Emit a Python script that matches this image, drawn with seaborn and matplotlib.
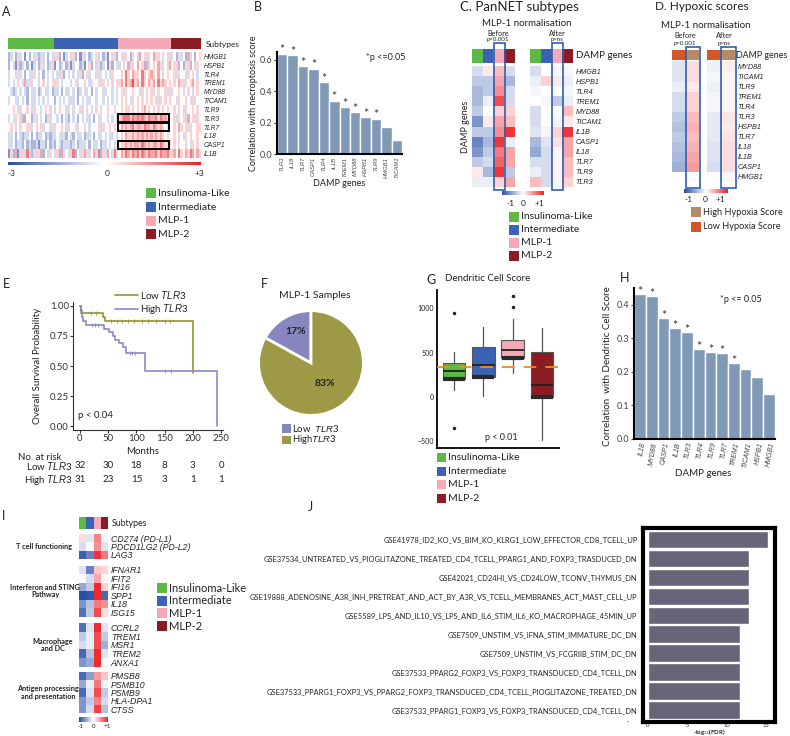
import numpy as np
import matplotlib
matplotlib.use("Agg")
import matplotlib.pyplot as plt
import matplotlib.patches as mpatches
import matplotlib.transforms as mtransforms
from matplotlib.colors import LinearSegmentedColormap, ListedColormap, Normalize
from matplotlib.lines import Line2D
import seaborn as sns

# ── Style ─────────────────────────────────────────────────────────────────────
sns.set_theme(style="ticks")
plt.rcParams["font.family"] = ["Lato", "DejaVu Sans"]
plt.rcParams["mathtext.fontset"] = "custom"
plt.rcParams["mathtext.rm"] = "Lato"
plt.rcParams["mathtext.it"] = "Liberation Sans:italic"
plt.rcParams["mathtext.bf"] = "Lato:bold"
plt.rcParams["text.color"] = "#222222"

SUB_NAMES = ["Insulinoma-Like", "Intermediate", "MLP-1", "MLP-2"]
SUB_COLORS = ["#5cb946", "#3b62b3", "#f5a8b5", "#8c1c24"]
HYP_NAMES = ["High Hypoxia Score", "Low Hypoxia Score"]
HYP_COLORS = ["#b38b68", "#d4572b"]
BAR_BLUE = "#8099b6"
CMAP = LinearSegmentedColormap.from_list("bwr_pub", ["#2a4ea6", "#ffffff", "#ee2024"])
GENE_FONT = "Liberation Sans"

# ── Data ──────────────────────────────────────────────────────────────────────
# A: per-sample z-scores, one char per sample, value = (digit - 5) * 0.6
A_GENES = ["HMGB1", "HSPB1", "TLR4", "TREM1", "MYD88", "TICAM1",
           "TLR9", "TLR3", "TLR7", "IL18", "CASP1", "IL1B"]
A_GROUP_SIZES = [20, 28, 23, 13]
A_ROWS = [
    "34536 45253 54634 45354 46352 45463 52645 34564 53625 463 56465 36547 56465 74656 546 45364 53745 356",
    "35426 34535 24536 45346 25345 36245 53425 63546 34526 354 45657 46575 63745 65764 567 56475 36475 465",
    "45546 45354 46545 35454 54463 54545 46356 45546 45454 655 56586 57665 86567 65756 565 56465 54656 545",
    "45456 54746 45545 65456 46545 55456 45565 46556 46565 456 67586 79675 86576 75867 656 56576 46567 565",
    "54345 45435 44534 54453 44535 44545 34544 53545 54455 454 56465 56554 65656 45655 646 45565 45654 565",
    "45544 54535 44545 45455 35454 54445 35454 45545 54545 454 56565 46565 65656 56465 656 55465 56546 455",
    "55656 45565 46554 56565 45655 46545 56456 54565 45565 565 56566 56565 67565 65656 565 56565 46556 565",
    "45465 47355 36454 53645 54535 43545 35454 45354 45545 454 67888 68787 87687 78687 765 56465 64756 465",
    "56545 65566 45656 45546 45565 46556 45565 45556 46556 565 57676 78677 68776 87676 565 56576 56465 566",
    "44535 43445 35344 53434 45444 35435 44534 45354 45454 454 56576 67676 76767 67676 565 56565 46565 565",
    "44534 43534 33424 43534 35434 44345 34445 35445 34454 545 56676 76776 87676 77687 666 56565 56546 565",
    "26372 46484 36467 35465 46374 56483 56476 45748 36475 486 57687 68786 87687 78687 786 67586 57687 576",
]
A_BOXED = ["TLR3", "TLR7", "CASP1"]

# B: correlation with necroptosis score
B_GENES = ["TLR3", "IL18", "TLR7", "CASP1", "TLR4", "IL1B",
           "TREM1", "MYD88", "HSPB1", "TLR9", "HMGB1", "TICAM1"]
B_CORR = [0.64, 0.63, 0.56, 0.545, 0.46, 0.34, 0.30, 0.265, 0.235, 0.225, 0.17, 0.088]
B_SIG = [True] * 10 + [False] * 2

# C: mean z-score per subtype before / after MLP-1 normalisation
C_GENES = ["HMGB1", "HSPB1", "TLR4", "TREM1", "MYD88", "TICAM1",
           "IL1B", "CASP1", "IL18", "TLR7", "TLR9", "TLR3"]
C_BEFORE = [[-0.2, 0.1, 0.3, -0.2], [-0.3, -0.3, 0.4, -0.4], [-0.4, -0.3, 0.5, -0.2],
            [-0.4, -0.1, 0.8, -0.2], [-0.3, 0.0, 0.2, 0.2], [-0.6, 0.1, 0.4, 0.3],
            [-0.3, -0.3, 0.5, 0.9], [-0.7, -0.4, 0.9, -0.1], [-0.6, -0.3, 0.6, 0.4],
            [-0.3, -0.2, 0.7, 0.4], [0.1, -0.4, 0.9, -0.3], [-0.1, -0.1, 0.2, 0.4]]
C_AFTER = [[-0.2, 0.0, -0.05, -0.05], [-0.1, 0.2, 0.1, -0.1], [-0.05, 0.0, 0.0, -0.05],
           [0.0, -0.05, -0.3, -0.1], [-0.2, 0.0, 0.0, 0.3], [-0.2, 0.0, -0.05, 0.1],
           [-0.15, -0.05, 0.2, 0.9], [-0.4, -0.15, 0.15, 0.4], [-0.5, -0.2, 0.05, 0.4],
           [-0.2, -0.2, 0.05, 0.3], [-0.1, -0.2, 0.05, 0.3], [0.3, -0.2, -0.05, 0.2]]

# D: hypoxia groups (Low, High)
D_GENES = ["MYD88", "TICAM1", "TLR9", "TREM1", "TLR4", "TLR3",
           "HSPB1", "TLR7", "IL18", "IL1B", "CASP1", "HMGB1"]
D_BEFORE = [[-0.15, 0.15], [-0.15, 0.15], [-0.1, 0.1], [-0.2, 0.2], [-0.2, 0.2], [-0.3, 0.3],
            [-0.35, 0.35], [-0.3, 0.3], [-0.35, 0.35], [-0.4, 0.4], [-0.45, 0.45], [0.0, -0.03]]
D_AFTER = [[-0.08, 0.08], [-0.05, 0.05], [-0.08, 0.05], [-0.05, 0.05], [-0.05, 0.05], [-0.12, 0.12],
           [-0.12, 0.1], [-0.12, 0.12], [-0.15, 0.15], [-0.15, 0.15], [-0.18, 0.15], [0.02, -0.05]]

# E: Kaplan-Meier
LOW_T = [0, 2, 40, 45, 200]
LOW_S = [1.0, 0.94, 0.91, 0.875, 0.44]
HIGH_T = [0, 2, 4, 6, 10, 42, 52, 58, 62, 70, 76, 82, 115, 242]
HIGH_S = [1.0, 0.97, 0.91, 0.875, 0.84, 0.81, 0.78, 0.75, 0.72, 0.69, 0.66, 0.61, 0.46, 0.0]
LOW_CENS = [20, 28, 55, 65, 75, 85, 95, 110, 120, 135, 150, 160]
HIGH_CENS = [22, 27, 32, 88, 93, 98, 150, 162]
RISK_MONTHS = [0, 50, 100, 150, 200, 250]
LOW_RISK = [32, 30, 18, 8, 3, 0]
HIGH_RISK = [31, 23, 15, 3, 1, 1]

# F: pie
F_PCT = [17, 83]
F_COLORS = ["#8886bf", "#9d9946"]

# G: dendritic cell score box stats
G_Q1 = [203, 229, 437, -4]
G_MED = [297, 361, 531, 135]
G_Q3 = [380, 568, 643, 505]
G_LO = [79, 11, 275, -485]
G_HI = [505, 794, 877, 782]
G_FLIERS = [[945, -347], [], [1140, 1020], []]
G_REF = 335

# H: correlation with dendritic cell score
H_GENES = ["IL18", "MYD88", "CASP1", "IL1B", "TLR3", "TLR4",
           "TLR9", "TLR7", "TREM1", "TICAM1", "HSPB1", "HMGB1"]
H_CORR = [0.432, 0.427, 0.362, 0.33, 0.318, 0.269, 0.258, 0.256, 0.226, 0.21, 0.184, 0.133]
H_SIG = [True] * 9 + [False] * 3

# I: immune genes per subtype
I_GROUPS = ["T cell functioning", "Interferon and STING\nPathway",
            "Macrophage\nand DC", "Antigen processing\nand presentation"]
I_GENES = [["CD274 (PD-L1)", "PDCD1LG2 (PD-L2)", "LAG3"],
           ["IFNAR1", "IFIT2", "IFI16", "SPP1", "IL18", "ISG15"],
           ["CCRL2", "TREM1", "MSR1", "TREM2", "ANXA1"],
           ["PMSB8", "PSMB10", "PSMB9", "HLA-DPA1", "CTSS"]]
I_VALUES = [
    [[0.15, -0.15, 0.55, -0.05], [-0.2, 0.0, 0.5, -0.15], [-0.9, -0.7, 0.9, 0.6]],
    [[-0.15, -0.7, 0.25, 0.2], [0.0, -0.2, 0.4, 0.05], [-0.5, -0.3, 0.95, 0.2],
     [-1.0, -0.95, 0.95, -0.85], [-0.6, -0.35, 0.6, 0.5], [-0.8, -0.3, 0.8, 0.15]],
    [[-0.8, -0.15, 0.95, -0.15], [-0.3, -0.1, 0.8, -0.3], [-0.2, -0.1, 0.8, -0.45],
     [-0.85, -0.35, 0.95, -0.15], [-0.6, -0.5, 0.95, 0.0]],
    [[-0.85, -0.55, 0.45, 0.25], [-0.5, -0.1, 0.6, -0.05], [-0.85, -0.15, 0.8, -0.3],
     [-0.6, -0.3, 0.55, -0.2], [-0.6, -0.2, 0.85, -0.35]],
]

# J: enriched gene sets
J_TERMS = [
    "GSE41978_ID2_KO_VS_BIM_KO_KLRG1_LOW_EFFECTOR_CD8_TCELL_UP",
    "GSE37534_UNTREATED_VS_PIOGLITAZONE_TREATED_CD4_TCELL_PPARG1_AND_FOXP3_TRASDUCED_DN",
    "GSE42021_CD24HI_VS_CD24LOW_TCONV_THYMUS_DN",
    "GSE19888_ADENOSINE_A3R_INH_PRETREAT_AND_ACT_BY_A3R_VS_TCELL_MEMBRANES_ACT_MAST_CELL_UP",
    "GSE5589_LPS_AND_IL10_VS_LPS_AND_IL6_STIM_IL6_KO_MACROPHAGE_45MIN_UP",
    "GSE7509_UNSTIM_VS_IFNA_STIM_IMMATURE_DC_DN",
    "GSE7509_UNSTIM_VS_FCGRIIB_STIM_DC_DN",
    "GSE37533_PPARG2_FOXP3_VS_FOXP3_TRANSDUCED_CD4_TCELL_DN",
    "GSE37533_PPARG1_FOXP3_VS_PPARG2_FOXP3_TRANSDUCED_CD4_TCELL_PIOGLITAZONE_TREATED_DN",
    "GSE37533_PPARG1_FOXP3_VS_FOXP3_TRANSDUCED_CD4_TCELL_DN",
]
J_LOGFDR = [15.2, 12.8, 12.8, 12.8, 12.8, 11.7, 11.7, 11.65, 11.65, 11.65]

# ── Figure helpers (pixel coords, origin top-left) ────────────────────────────
W, H = 790, 736
fig = plt.figure(figsize=(W / 100, H / 100), dpi=100)
fig.patch.set_facecolor("white")


def ax_at(x0, y0, x1, y1):
    return fig.add_axes([x0 / W, 1 - y1 / H, (x1 - x0) / W, (y1 - y0) / H])


def txt(x, y, s, **kw):
    kw.setdefault("ha", "left")
    kw.setdefault("va", "center")
    fig.text(x / W, 1 - y / H, s, **kw)


def frame(x0, y0, x1, y1, color="#2f5fb3", lw=1.2):
    fig.add_artist(mpatches.Rectangle((x0 / W, 1 - y1 / H), (x1 - x0) / W, (y1 - y0) / H,
                                      transform=fig.transFigure, fill=False,
                                      edgecolor=color, lw=lw))


def legend_boxes(x, y, dy, colors, labels, size=10, fs=7.5):
    for i, (c, lab) in enumerate(zip(colors, labels)):
        yy = y + i * dy
        fig.add_artist(mpatches.Rectangle((x / W, 1 - (yy + size / 2) / H), size / W, size / H,
                                          transform=fig.transFigure, facecolor=c,
                                          edgecolor="none"))
        txt(x + size + 2, yy, lab, fontsize=fs)


def heat(ax, data, vmin, vmax, labels=None, fs=5):
    sns.heatmap(np.array(data), ax=ax, cmap=CMAP, vmin=vmin, vmax=vmax, cbar=False,
                xticklabels=False, yticklabels=False)
    if labels is not None:
        ax.yaxis.tick_right()
        ax.set_yticks(np.arange(len(labels)) + 0.5)
        ax.set_yticklabels(labels, rotation=0, fontsize=fs, fontstyle="italic",
                           fontfamily=GENE_FONT)
        ax.tick_params(axis="y", length=0, pad=2)


def subtype_bar(ax, codes, colors):
    sns.heatmap(np.array(codes)[None, :], ax=ax, cmap=ListedColormap(colors),
                vmin=-0.5, vmax=len(colors) - 0.5, cbar=False,
                xticklabels=False, yticklabels=False)


def colorbar_at(x0, y0, x1, y1, vmin, vmax):
    cax = ax_at(x0, y0, x1, y1)
    cb = fig.colorbar(plt.cm.ScalarMappable(norm=Normalize(vmin, vmax), cmap=CMAP),
                      cax=cax, orientation="horizontal")
    cb.set_ticks([])
    cb.outline.set_visible(False)


def corr_bars(ax, genes, vals, sig, ymax, yticks, fs_x, rot=90):
    sns.barplot(x=genes, y=vals, color=BAR_BLUE, saturation=1, width=1.0,
                edgecolor="white", linewidth=1, ax=ax)
    ax.set_xlim(-0.5, len(genes) - 0.5)
    ax.set_ylim(0, ymax)
    ax.set_yticks(yticks)
    ax.set_yticklabels([f"{t:.1f}" for t in yticks])
    ax.tick_params(axis="y", labelsize=6.5, length=2, width=0.8, pad=1, colors="#444444")
    ax.tick_params(axis="x", length=0, pad=2)
    ax.set_xticks(range(len(genes)))
    ax.set_xticklabels(genes, rotation=rot, fontsize=fs_x, fontstyle="italic",
                       fontfamily=GENE_FONT, color="#444444",
                       ha="center" if rot == 90 else "right",
                       rotation_mode="default" if rot == 90 else "anchor")
    ax.set_xlabel("")
    ax.set_ylabel("")
    sns.despine(ax=ax)
    for s in ["left", "bottom"]:
        ax.spines[s].set_color("black")
        ax.spines[s].set_linewidth(1.5)
    for i, (v, s) in enumerate(zip(vals, sig)):
        if s:
            ax.text(i, v - 0.012 * ymax / 0.45, "*", ha="center", va="bottom",
                    fontsize=9, color="#333333")


# ── A ─────────────────────────────────────────────────────────────────────────
txt(2, 12, "A", fontsize=9)
a_mat = np.array([[(int(c) - 5) * 0.6 for c in "".join(r.split())] for r in A_ROWS])
a_codes = np.repeat(np.arange(4), A_GROUP_SIZES)
subtype_bar(ax_at(8, 38, 201, 49), a_codes, SUB_COLORS)
txt(206, 44, "Subtypes", fontsize=6)
axA = ax_at(8, 52, 201, 158)
heat(axA, a_mat, -3, 3, A_GENES, fs=4.8)
box_start = A_GROUP_SIZES[0] + A_GROUP_SIZES[1]
for g in A_BOXED:
    r = A_GENES.index(g)
    axA.add_patch(mpatches.Rectangle((box_start, r + 0.05), A_GROUP_SIZES[2] - 1, 0.9,
                                     fill=False, edgecolor="black", lw=1.4))
colorbar_at(8, 162, 201, 165, -3, 3)
txt(11, 173, "-3", fontsize=6, ha="center")
txt(107, 173, "0", fontsize=6, ha="center")
txt(199, 173, "+3", fontsize=6, ha="center")
legend_boxes(146, 193.3, 13.7, SUB_COLORS, SUB_NAMES)

# ── B ─────────────────────────────────────────────────────────────────────────
txt(254, 7, "B", fontsize=9)
axB = ax_at(277, 52, 402, 154)
corr_bars(axB, B_GENES, B_CORR, B_SIG, 0.651, [0.0, 0.2, 0.4, 0.6], 4.2)
txt(366, 58, "*p <=0.05", fontsize=6.5)
txt(339, 183, "DAMP genes", fontsize=6.5, ha="center")
txt(253, 103, "Correlation with necroptosis score", fontsize=6.5, ha="center", rotation=90)

# ── C ─────────────────────────────────────────────────────────────────────────
txt(460, 7, "C. PanNET subtypes", fontsize=9.5)
txt(527, 24, "MLP-1 normalisation", fontsize=7, ha="center")
txt(498, 33, "Before", fontsize=5.3, ha="center")
txt(498, 39, "p<0.001", fontsize=4.4, ha="center")
txt(557, 33, "After", fontsize=5.3, ha="center")
txt(557, 39, "p=ns", fontsize=4.4, ha="center")
subtype_bar(ax_at(472, 49, 515, 63), np.arange(4), SUB_COLORS)
subtype_bar(ax_at(530, 49, 573, 63), np.arange(4), SUB_COLORS)
heat(ax_at(472, 66, 515, 187), C_BEFORE, -1, 1)
heat(ax_at(530, 66, 573, 187), C_AFTER, -1, 1, C_GENES, fs=5.2)
frame(493.5, 43, 504.5, 190)
frame(551.5, 43, 562.5, 190)
txt(576, 56, "DAMP genes", fontsize=7)
txt(465, 127, "DAMP genes", fontsize=6.5, ha="center", rotation=90)
colorbar_at(502, 191, 544, 195, -1, 1)
txt(510, 203, "-1", fontsize=6, ha="center")
txt(523, 203, "0", fontsize=6, ha="center")
txt(539, 203, "+1", fontsize=6, ha="center")
legend_boxes(509, 216.7, 13.1, SUB_COLORS, SUB_NAMES)

# ── D ─────────────────────────────────────────────────────────────────────────
txt(702, 6, "D. Hypoxic scores", fontsize=8.5, ha="center")
txt(706, 26, "MLP-1 normalisation", fontsize=7, ha="center")
txt(685, 36, "Before", fontsize=5.3, ha="center")
txt(685, 43, "p<0.001", fontsize=4.4, ha="center")
txt(724, 36, "After", fontsize=5.3, ha="center")
txt(724, 43, "p=ns", fontsize=4.4, ha="center")
hyp_codes = np.array([1, 0])
subtype_bar(ax_at(672, 50, 699, 60), hyp_codes, HYP_COLORS)
subtype_bar(ax_at(707, 50, 735, 60), hyp_codes, HYP_COLORS)
heat(ax_at(672, 61.5, 699, 182), D_BEFORE, -1, 1)
heat(ax_at(707, 61.5, 735, 182), D_AFTER, -1, 1, D_GENES, fs=5.2)
frame(686, 47, 699.5, 188)
frame(721, 47, 735.5, 188)
txt(736, 55, "DAMP genes", fontsize=6.4)
colorbar_at(684, 189, 728, 192.5, -1, 1)
txt(688, 200, "-1", fontsize=6, ha="center")
txt(705, 200, "0", fontsize=6, ha="center")
txt(720, 200, "+1", fontsize=6, ha="center")
legend_boxes(691, 212.3, 14.4, HYP_COLORS, HYP_NAMES, fs=6.6)

# ── E ─────────────────────────────────────────────────────────────────────────
txt(3, 284, "E", fontsize=9)
axE = ax_at(73, 302, 223, 430)
low_c, high_c = "#9a9135", "#8a87c9"


def surv_at(t, times, surv):
    idx = np.searchsorted(times, t, side="right") - 1
    return np.array(surv)[idx]


axE.step(LOW_T, LOW_S, where="post", color=low_c, lw=1.2)
axE.step(HIGH_T, HIGH_S, where="post", color=high_c, lw=1.2)
axE.plot(LOW_CENS, surv_at(LOW_CENS, LOW_T, LOW_S), "|", color=low_c, ms=3, mew=0.6)
axE.plot(HIGH_CENS, surv_at(HIGH_CENS, HIGH_T, HIGH_S), "|", color=high_c, ms=3, mew=0.6)
axE.set_xlim(-12.4, 253.5)
axE.set_ylim(-0.033, 1.033)
axE.set_xticks(RISK_MONTHS)
axE.set_yticks([0, 0.25, 0.5, 0.75, 1.0])
axE.set_yticklabels(["0.00", "0.25", "0.50", "0.75", "1.00"])
axE.tick_params(labelsize=7, length=2, width=0.8, pad=1, colors="#333333")
sns.despine(ax=axE)
for s in ["left", "bottom"]:
    axE.spines[s].set_color("#333333")
    axE.spines[s].set_linewidth(0.8)
axE.text(0.03, 0.09, "p < 0.04", transform=axE.transAxes, fontsize=7)
axE.legend(handles=[Line2D([], [], color=low_c, lw=1.2), Line2D([], [], color=high_c, lw=1.2)],
           labels=["Low $\\mathit{TLR3}$", "High $\\mathit{TLR3}$"],
           loc="center left", bbox_to_anchor=(115 / W, 1 - 302.5 / H),
           bbox_transform=fig.transFigure, frameon=False, fontsize=7,
           handlelength=2.35, handletextpad=0.25, labelspacing=0.15, borderpad=0,
           borderaxespad=0)
txt(37, 366, "Overall Survival Probability", fontsize=7, ha="center", rotation=90)
txt(143, 452, "Months", fontsize=7, ha="center")
txt(18, 457, "No. at risk", fontsize=7)
txt(72, 466, "Low $\\mathit{TLR3}$", fontsize=7, ha="right")
txt(72, 480, "High $\\mathit{TLR3}$", fontsize=7, ha="right")
risk_tr = mtransforms.blended_transform_factory(axE.transData, fig.transFigure)
for m, lo, hi in zip(RISK_MONTHS, LOW_RISK, HIGH_RISK):
    axE.text(m, 1 - 466 / H, str(lo), transform=risk_tr, ha="center", va="center", fontsize=7)
    axE.text(m, 1 - 480 / H, str(hi), transform=risk_tr, ha="center", va="center", fontsize=7)

# ── F ─────────────────────────────────────────────────────────────────────────
txt(261, 284, "F", fontsize=9)
txt(315, 296, "MLP-1 Samples", fontsize=7.5, ha="center")
axF = ax_at(256, 308, 366, 418)
axF.pie(F_PCT, colors=F_COLORS, startangle=90, counterclock=True,
        wedgeprops=dict(edgecolor="white", linewidth=2))
axF.set_xlim(-1.05, 1.05)
axF.set_ylim(-1.05, 1.05)
axF.text(-0.3, 0.6, f"{F_PCT[0]}%", ha="center", va="center", fontsize=7.5, fontweight="bold")
axF.text(0.27, -0.4, f"{F_PCT[1]}%", ha="center", va="center", fontsize=7.5, fontweight="bold")
legend_boxes(282, 428.5, 11.5, F_COLORS,
             ["Low  $\\mathit{TLR3}$", "High$\\mathit{TLR3}$"], size=8.5, fs=6.8)

# ── G ─────────────────────────────────────────────────────────────────────────
txt(426, 280, "G", fontsize=9)
txt(488, 278, "Dendritic Cell Score", fontsize=7, ha="center")
axG = ax_at(437, 290, 559, 448)
stats = [dict(q1=a, med=b, q3=c, whislo=d, whishi=e, fliers=f, label=n)
         for a, b, c, d, e, f, n in zip(G_Q1, G_MED, G_Q3, G_LO, G_HI, G_FLIERS, SUB_NAMES)]
bp = axG.bxp(stats, positions=range(4), widths=0.77, patch_artist=True, showcaps=False,
             boxprops=dict(edgecolor="#555555", linewidth=0.8),
             whiskerprops=dict(color="#555555", linewidth=0.9),
             medianprops=dict(color="#222222", linewidth=1.3),
             flierprops=dict(marker="o", markersize=1.5, markerfacecolor="#222222",
                             markeredgecolor="#222222"))
for patch, c in zip(bp["boxes"], SUB_COLORS):
    patch.set_facecolor(c)
axG.hlines(G_Q1, np.arange(4) - 0.37, np.arange(4) + 0.37, color="#2a2a2a", lw=3, zorder=3)
axG.axhline(G_REF, color="#f28a1e", lw=1.3, ls=(0, (7, 5)), zorder=4)
axG.set_xlim(-0.58, 3.58)
axG.set_ylim(-576, 1208)
axG.set_yticks([-500, 0, 500, 1000])
axG.set_xticks([])
axG.tick_params(axis="y", labelsize=5, length=0, pad=2)
sns.despine(ax=axG)
for s in ["left", "bottom"]:
    axG.spines[s].set_color("black")
    axG.spines[s].set_linewidth(1.3)
axG.text(1.6, -460, "p < 0.01", ha="center", va="center", fontsize=6.5)
legend_boxes(437, 457.7, 13.5, SUB_COLORS, SUB_NAMES, size=9)

# ── H ─────────────────────────────────────────────────────────────────────────
txt(620, 278, "H", fontsize=9)
axH = ax_at(634, 288, 775, 439)
corr_bars(axH, H_GENES, H_CORR, H_SIG, 0.45, [0.0, 0.1, 0.2, 0.3, 0.4], 5, rot=80)
txt(720, 299, "*p <= 0.05", fontsize=6.5)
txt(703, 474, "DAMP genes", fontsize=7, ha="center")
txt(608, 366, "Correlation  with Dendritic Cell Score", fontsize=7, ha="center", rotation=90)

# ── I ─────────────────────────────────────────────────────────────────────────
txt(2, 516, "I", fontsize=9)
subtype_bar(ax_at(79, 517, 108, 529), np.arange(4), SUB_COLORS)
txt(112, 524, "Subtypes", fontsize=6.3)
i_boxes = [(534, 559), (565.7, 616.7), (623.3, 666.7), (671.7, 713.3)]
i_label_x = [44, 45, 53, 48]
for (y0, y1), genes, vals, grp, lx in zip(i_boxes, I_GENES, I_VALUES, I_GROUPS, i_label_x):
    heat(ax_at(79, y0, 108, y1), vals, -1, 1, genes, fs=6.3)
    txt(lx, (y0 + y1) / 2, grp, fontsize=5.2, fontweight="bold", ha="center",
        multialignment="center", linespacing=1.1)
colorbar_at(79, 717, 108, 722, -1, 1)
txt(81, 727, "-1", fontsize=4.5, ha="center")
txt(94, 727, "0", fontsize=4.5, ha="center")
txt(107, 727, "+1", fontsize=4.5, ha="center")
legend_boxes(157, 588, 12.7, SUB_COLORS, SUB_NAMES, size=10, fs=8)

# ── J ─────────────────────────────────────────────────────────────────────────
txt(308, 507, "J", fontsize=9)
axJ = ax_at(643, 528, 775, 722)
sns.barplot(x=J_LOGFDR, y=J_TERMS, orient="h", color="#66657a", saturation=1,
            width=0.93, ax=axJ)
axJ.set_xlim(-0.64, 16.1)
axJ.set_ylim(9.63, -0.61)
axJ.set_xticks([0, 5, 10, 15])
axJ.tick_params(axis="x", labelsize=4.2, length=0, pad=0.5)
axJ.tick_params(axis="y", labelsize=5.4, length=0, pad=4)
axJ.set_ylabel("")
axJ.set_xlabel("")
for s in axJ.spines.values():
    s.set_color("black")
    s.set_linewidth(3)
txt(709, 732.3, "-log$_{10}$(FDR)", fontsize=4.4, fontweight="bold", ha="center")
txt(627, 720, ".", fontsize=5)

fig.savefig("out.png", dpi=100, facecolor="white")
